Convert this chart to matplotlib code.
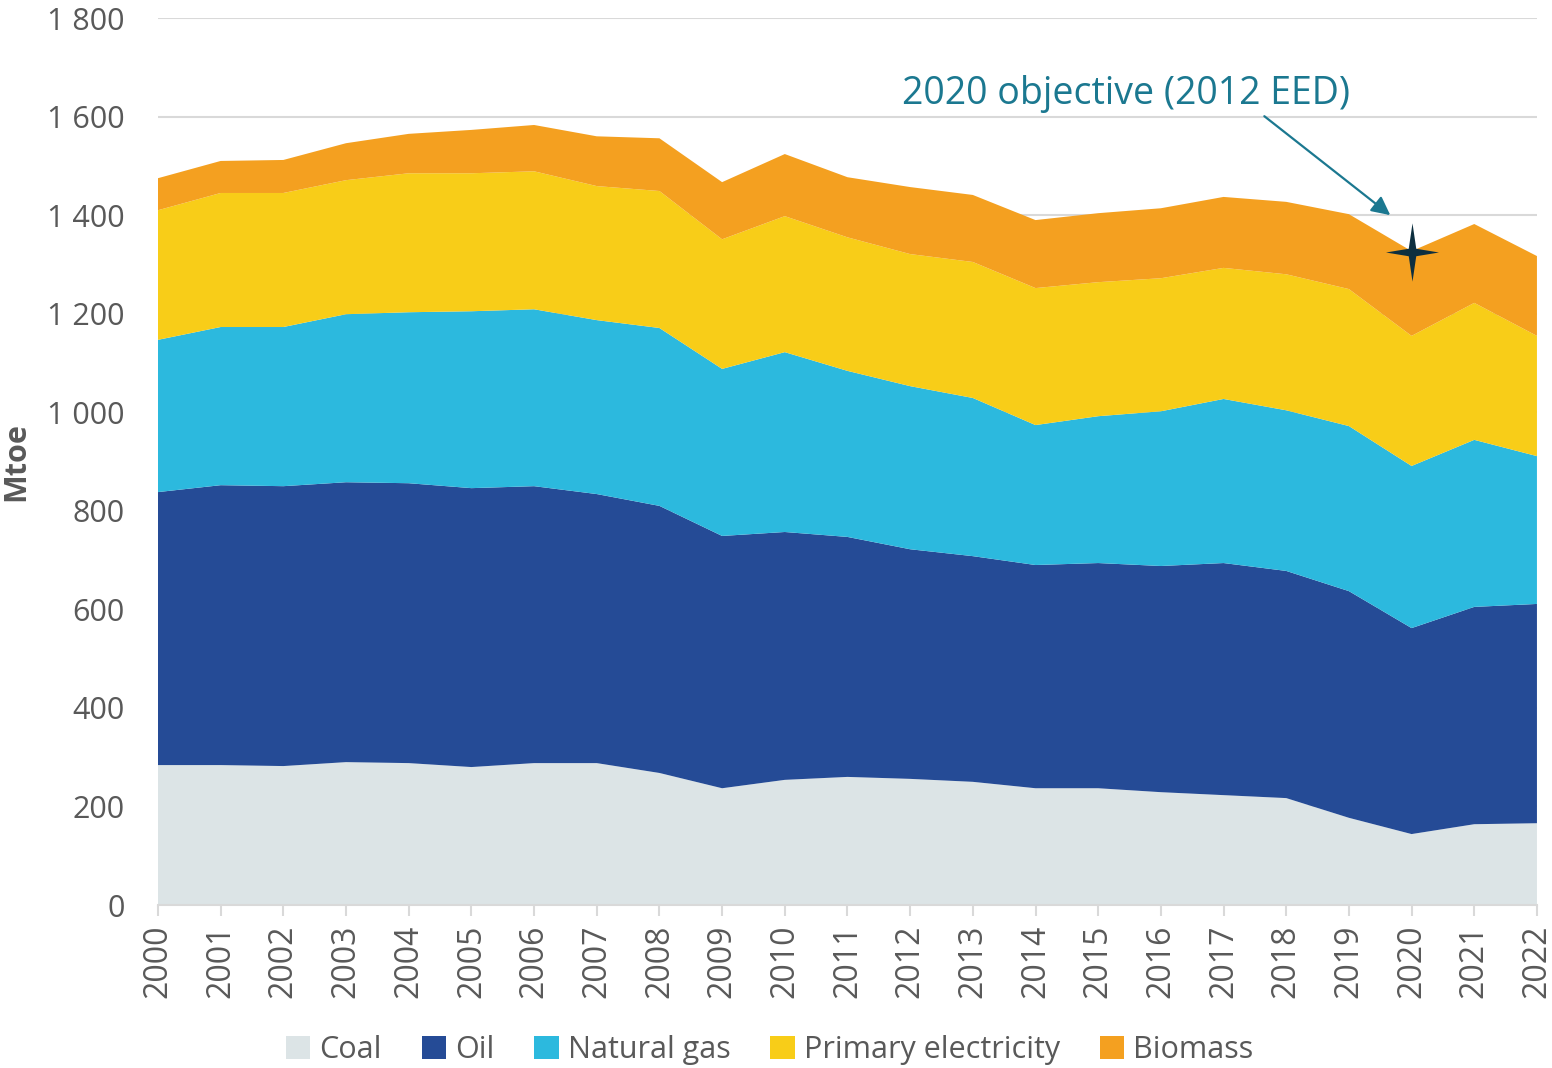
import numpy as np
import matplotlib
matplotlib.use('Agg')
import matplotlib.pyplot as plt
from matplotlib.patches import Patch
from matplotlib.path import Path

plt.rcParams['font.family'] = ['Open Sans', 'DejaVu Sans']

years = list(range(2000, 2023))
coal = [284, 284, 282, 290, 288, 280, 288, 288, 268, 237, 254, 260, 256, 250, 237, 237, 229, 223, 217, 177, 144, 164, 166]
oil_top = [838, 852, 850, 858, 856, 846, 850, 834, 810, 749, 757, 747, 722, 708, 690, 694, 688, 694, 678, 637, 562, 605, 611]
gas_top = [1147, 1173, 1173, 1199, 1203, 1205, 1209, 1187, 1171, 1088, 1122, 1084, 1053, 1029, 974, 992, 1002, 1027, 1004, 972, 891, 944, 911]
elec_top = [1410, 1445, 1445, 1471, 1485, 1485, 1489, 1459, 1449, 1351, 1398, 1355, 1321, 1305, 1252, 1264, 1272, 1293, 1280, 1250, 1155, 1222, 1155]
bio_top = [1475, 1510, 1512, 1546, 1565, 1573, 1583, 1560, 1556, 1467, 1524, 1477, 1457, 1441, 1390, 1404, 1414, 1437, 1427, 1402, 1327, 1382, 1317]

oil = np.array(oil_top) - np.array(coal)
gas = np.array(gas_top) - np.array(oil_top)
elec = np.array(elec_top) - np.array(gas_top)
bio = np.array(bio_top) - np.array(elec_top)

labels = ['Coal', 'Oil', 'Natural gas', 'Primary electricity', 'Biomass']
colors = ['#dce4e6', '#254b96', '#2cb9de', '#f8cd18', '#f4a020']

objective_year = 2020
objective_value = 1325

txt = '#595959'

# thin 4-point star marker (a bit taller than wide)
r_in = 0.2
radii_out = [1.0, 1.1, 1.0, 1.1]
star_verts = []
for k in range(4):
    a = np.pi / 2 * k
    star_verts.append((radii_out[k] * np.cos(a), radii_out[k] * np.sin(a)))
    star_verts.append((r_in * np.cos(a + np.pi / 4), r_in * np.sin(a + np.pi / 4)))
star_verts.append(star_verts[0])
star = Path(star_verts, [Path.MOVETO] + [Path.LINETO] * 7 + [Path.CLOSEPOLY])

fig = plt.figure(figsize=(15.52, 10.68), dpi=100)
ax = fig.add_axes([0.1018, 0.1526, 0.8885, 0.8305])

ax.stackplot(years, coal, oil, gas, elec, bio, colors=colors, linewidth=0, zorder=2)

ax.set_xlim(2000, 2022)
ax.set_ylim(0, 1800)
ax.set_yticks(range(0, 1801, 200))
ax.set_yticklabels([f'{v:,}'.replace(',', ' ') for v in range(0, 1801, 200)])
ax.set_xticks(years)
ax.set_xticklabels([str(y) for y in years], rotation=90)

ax.grid(axis='y', color='#d9d9d9', linewidth=1.5, zorder=0)
ax.set_axisbelow(True)
for s in ['top', 'right', 'left']:
    ax.spines[s].set_visible(False)
ax.spines['bottom'].set_color('#d9d9d9')
ax.spines['bottom'].set_linewidth(1.5)
ax.tick_params(axis='y', length=0, pad=24, labelsize=22, labelcolor=txt)
ax.tick_params(axis='x', length=8, width=1.5, color='#d9d9d9', pad=6, labelsize=23, labelcolor=txt)

ax.set_ylabel('Mtoe', fontsize=22, fontweight='bold', color=txt)
ax.yaxis.set_label_coords(-0.092, 0.5)

# objective star
ax.plot([objective_year], [objective_value], marker=star, markersize=42,
        color='#0d2f3f', markeredgewidth=0, zorder=5)

ax.annotate('2020 objective (2012 EED)', xy=(2019.66, 1400), xytext=(2015.45, 1645),
            fontsize=27, color='#1b7890', ha='center', va='center',
            arrowprops=dict(arrowstyle='-|>', color='#1b7890', lw=1.6,
                            mutation_scale=28, shrinkA=0, shrinkB=0,
                            relpos=(0.80, 0.0)))

handles = [Patch(facecolor=c, edgecolor='none') for c in colors]
fig.legend(handles, labels, loc='center', bbox_to_anchor=(0.496, 0.017),
           ncol=5, frameon=False, fontsize=22, labelcolor=txt,
           handlelength=0.8, handleheight=0.8, handletextpad=0.3, columnspacing=1.3)

fig.savefig('out.png', dpi=100)
